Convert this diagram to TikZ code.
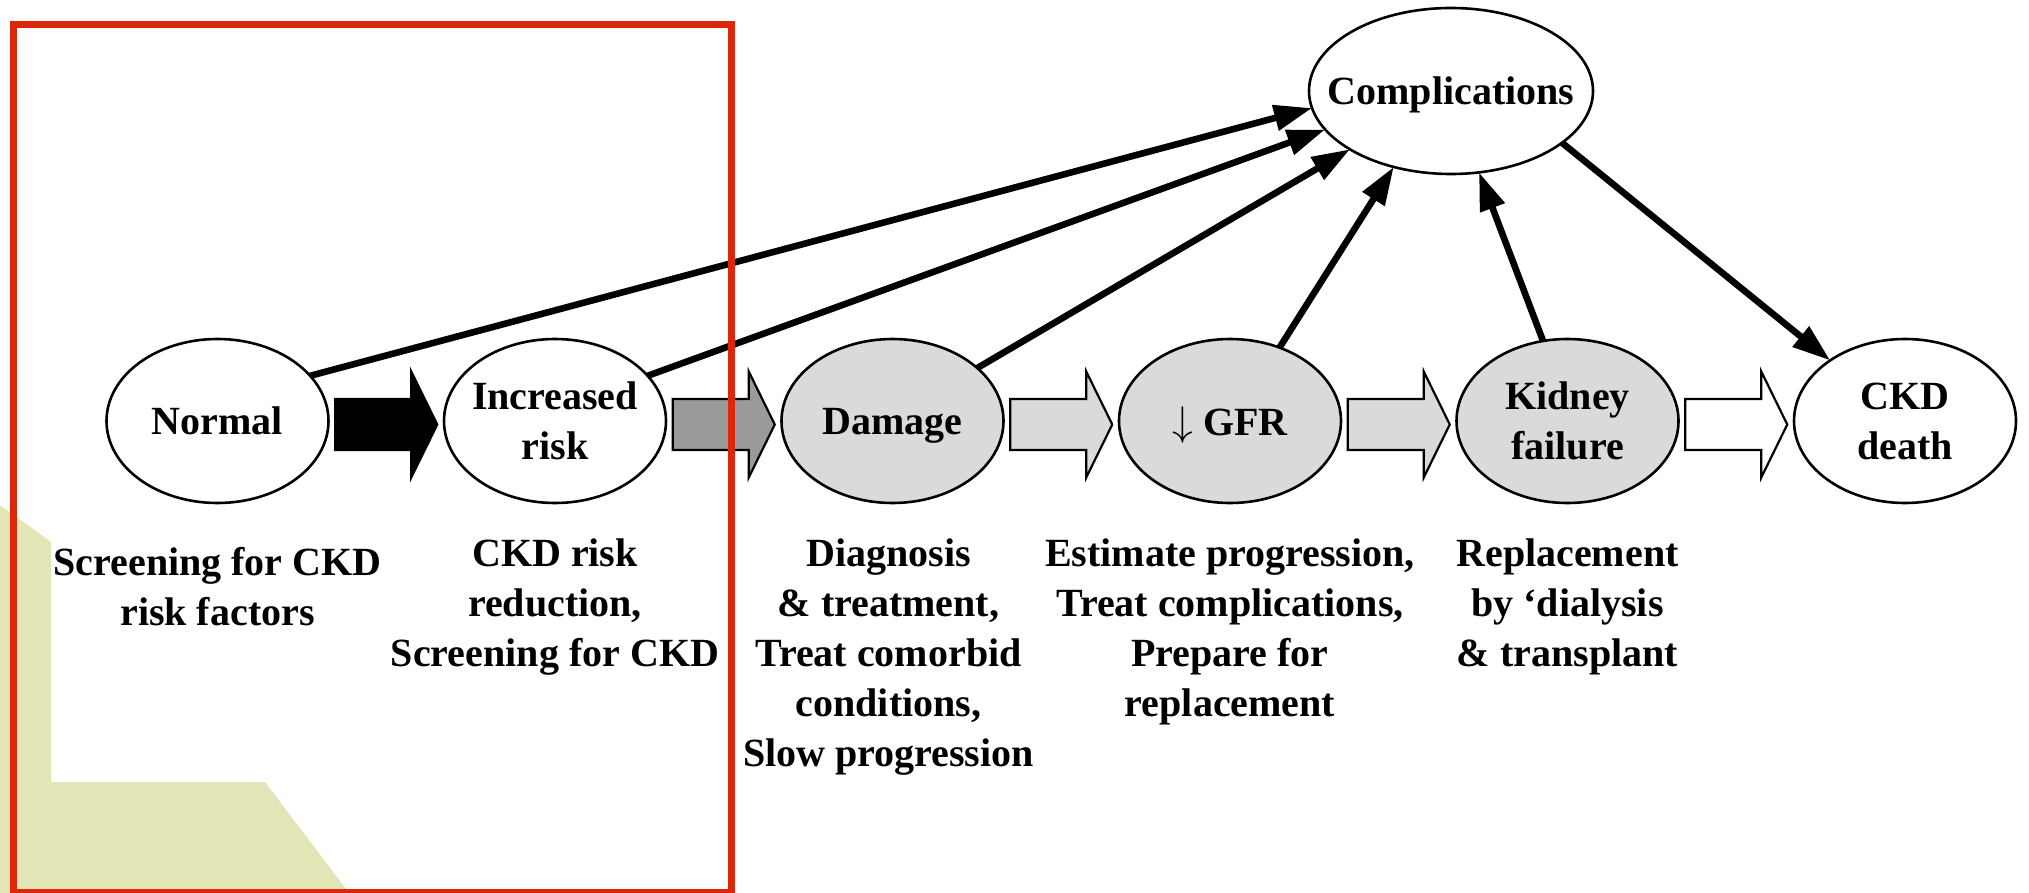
\documentclass[tikz,border=0pt]{standalone}
\usepackage{fontspec}
\setmainfont{Liberation Serif}
\usetikzlibrary{positioning, arrows.meta, calc, shapes.geometric}
\definecolor{frame red}{RGB}{221,38,10}
\definecolor{olive bg}{RGB}{226,230,182}
\definecolor{stage gray}{RGB}{218,218,218}
\definecolor{mid gray}{RGB}{154,154,154}
\tikzset{stage/.style={ellipse, draw, line width=1.3pt, fill=white, minimum width=111pt, minimum height=82pt, inner sep=0pt, inner xsep=-4pt, outer sep=0pt, text depth=0pt, align=center, font=\fontsize{20}{25}\selectfont\bfseries},
	action/.style={align=center, inner sep=0pt, font=\fontsize{20}{25}\selectfont\bfseries},
	link/.style={line width=3.3pt, -{Triangle[length=19pt,width=12.5pt]}},
	fat arrow/.style={draw, line width=1.1pt, line join=miter},}
\newcommand{\fatarrow}[3]{%
	\draw[fat arrow, fill=#3, shift={($(#1.east)!0.5!(#2.west)+(0,3.5)$)}]
	(-51,-25.5) -- (25,-25.5) -- (25,-53) -- (51,0) -- (25,53) -- (25,25.5) -- (-51,25.5) -- cycle;}

\begin{document}
\begin{tikzpicture}[x=0.5pt, y=-0.5pt]
	\useasboundingbox (0,0) rectangle (2029,893);
	% Background
	\fill[olive bg] (0,505) -- (51,542) -- (51,782) -- (265,782) -- (349,893) -- (0,893) -- cycle;
	% Stages
	\node[stage] (normal) at (217.5,421) {Normal};
	\node[stage] [right = 57.75pt of normal] (incr) {Increased\\risk};
	\node[stage, fill=stage gray] [right = 57.75pt of incr] (damage) {Damage};
	\node[stage, fill=stage gray] [right = 57.75pt of damage] (gfr) {$\downarrow$ GFR};
	\node[stage, fill=stage gray] [right = 57.75pt of gfr] (kidney) {Kidney\\failure};
	\node[stage] [right = 57.75pt of kidney] (death) {CKD\\death};
	\node[stage, minimum width=142pt, minimum height=83pt, inner xsep=-12pt] (compl) at (1451,91) {Complications};
	% Actions
	\node[action] [below = 21.75pt of normal] (normal txt) {Screening for CKD\\risk factors};
	\node[action] [below = 17.75pt of incr] (incr txt) {CKD risk\\reduction,\\Screening for CKD};
	\node[action] [below = 17.75pt of damage, xshift=-2pt] (damage txt) {Diagnosis\\\& treatment,\\Treat comorbid\\conditions,\\Slow progression};
	\node[action] [below = 17.75pt of gfr] (gfr txt) {Estimate progression,\\Treat complications,\\Prepare for\\replacement};
	\node[action] [below = 17.75pt of kidney] (kidney txt) {Replacement\\by \textquoteleft dialysis\\\& transplant};
	% Block arrows
	\fatarrow{normal}{incr}{black}
	\fatarrow{incr}{damage}{mid gray}
	\fatarrow{damage}{gfr}{stage gray}
	\fatarrow{gfr}{kidney}{stage gray}
	\fatarrow{kidney}{death}{white}
	% Paths
	\draw[link] (normal.26) -- (compl.187);
	\draw[link] (incr.26) -- (compl.197);
	\draw[link] (damage.32) -- (compl.210);
	\draw[link] (gfr.56) -- (compl.233);
	\draw[link] (kidney.107) -- (compl.289);
	\draw[link] (compl.335) -- (death.141);
	% Frame
	\draw[frame red, line width=3.5pt] (13.5,25) rectangle (731.5,892);
\end{tikzpicture}
\end{document}
